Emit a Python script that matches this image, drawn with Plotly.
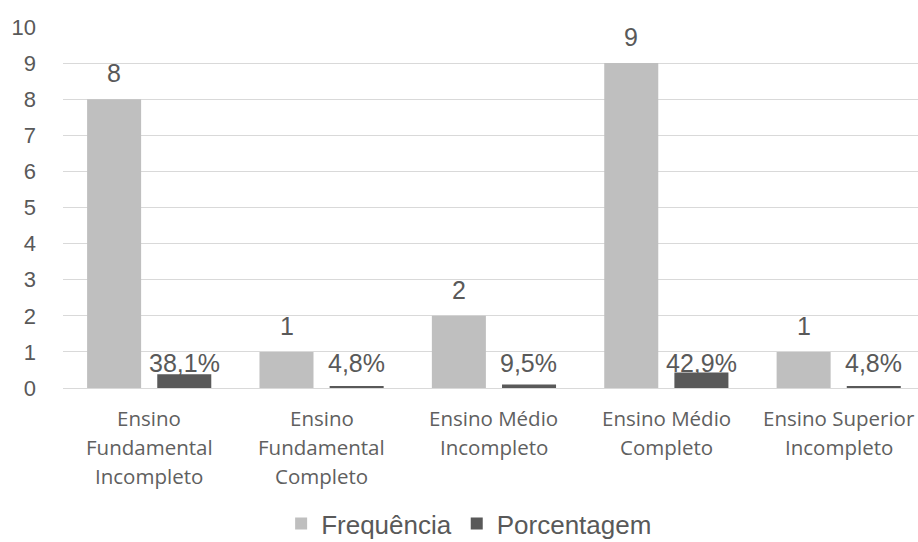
import plotly.graph_objects as go

categories = [
    "Ensino Fundamental Incompleto",
    "Ensino Fundamental Completo",
    "Ensino Médio Incompleto",
    "Ensino Médio Completo",
    "Ensino Superior Incompleto",
]
label_lines = [
    ["Ensino", "Fundamental", "Incompleto"],
    ["Ensino", "Fundamental", "Completo"],
    ["Ensino Médio", "Incompleto"],
    ["Ensino Médio", "Completo"],
    ["Ensino Superior", "Incompleto"],
]
frequencia = [8, 1, 2, 9, 1]
porcentagem = [0.381, 0.048, 0.095, 0.429, 0.048]
y_ticks = list(range(0, 11))

TXT = "#595959"
fig = go.Figure()
fig.add_trace(go.Bar(x=categories, y=frequencia, name="Frequência",
                     marker=dict(color="#bfbfbf", line=dict(width=0))))
fig.add_trace(go.Bar(x=categories, y=porcentagem, name="Porcentagem",
                     marker=dict(color="#595959", line=dict(width=0))))

ann = []
for c, f, p, lines in zip(categories, frequencia, porcentagem, label_lines):
    ann.append(dict(x=c, y=f, xref="x", yref="y", text=str(f), showarrow=False,
                    xshift=-35, yshift=26, yanchor="middle",
                    font=dict(family="Liberation Sans", size=25, color=TXT)))
    ann.append(dict(x=c, y=0, xref="x", yref="y",
                    text=f"{p*100:.1f}%".replace(".", ","), showarrow=False,
                    xshift=35, yshift=25, yanchor="middle",
                    font=dict(family="Liberation Sans", size=25, color=TXT)))
    for i, ln in enumerate(lines):
        ann.append(dict(x=c, y=0, xref="x", yref="y", text=ln, showarrow=False,
                        yshift=-(30 + 29 * i), yanchor="middle",
                        font=dict(family="Open Sans", size=20.5, color="#606060")))

fig.update_layout(
    width=918, height=542,
    margin=dict(l=63, r=0, t=27, b=154, autoexpand=False),
    paper_bgcolor="white", plot_bgcolor="white",
    barmode="group", bargap=0.186, bargroupgap=0.23,
    showlegend=True,
    legend=dict(orientation="h", x=0.475, xanchor="center",
                yref="container", y=0.034, yanchor="middle",
                font=dict(family="Liberation Sans", size=26, color=TXT)),
    annotations=ann,
)
fig.update_xaxes(range=[-0.5, 4.46], showticklabels=False, showgrid=False,
                 showline=False, ticks="")
fig.update_yaxes(range=[0, 10], tickvals=y_ticks, showgrid=True, gridcolor="#d9d9d9",
                 gridwidth=1, zeroline=True, zerolinecolor="#d9d9d9", zerolinewidth=1,
                 showline=False, ticks="", ticklabelstandoff=26,
                 tickfont=dict(family="Liberation Sans", size=22, color=TXT))
fig.write_html("out.html")
